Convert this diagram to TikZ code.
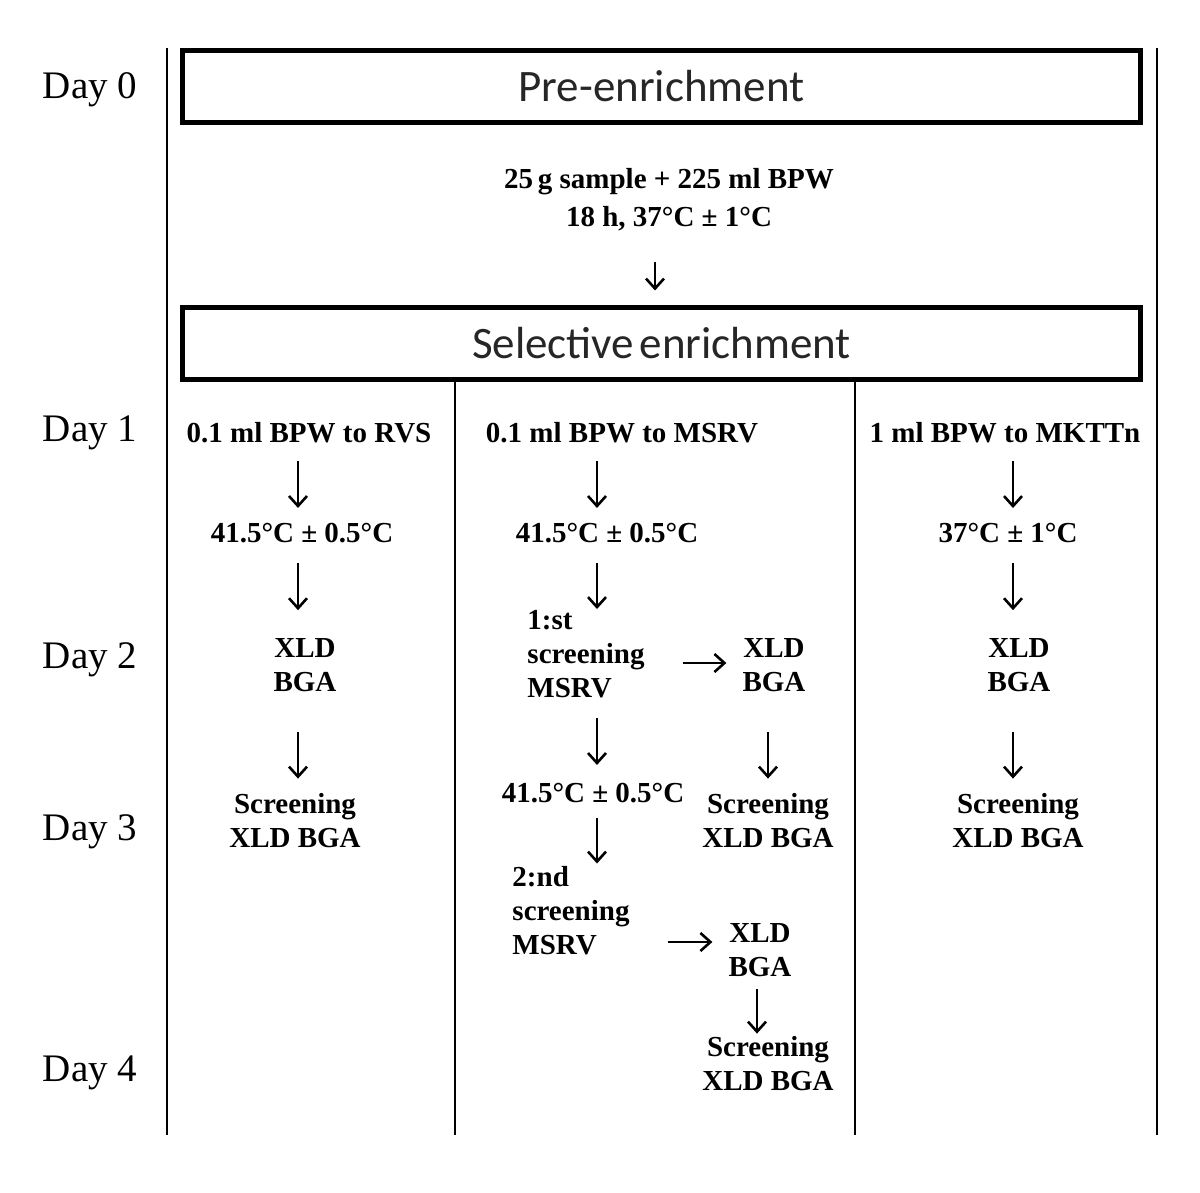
\documentclass[tikz,border=0pt]{standalone}
\usepackage{fontspec}
\setmainfont{Liberation Serif}
\newfontfamily\boxfont{Carlito}
\usetikzlibrary{arrows.meta}

\tikzset{
  daylabel/.style={font=\fontsize{39}{44}\selectfont, inner sep=0pt},
  stage/.style={draw, line width=5pt, minimum width=958pt, minimum height=72pt,
    inner sep=0pt, font=\boxfont\fontsize{45}{50}\selectfont, text=black!85},
  txt/.style={font=\bfseries\fontsize{29}{34}\selectfont, inner sep=0pt, align=center},
  flow/.style={line width=2.6pt, -{Straight Barb[length=10pt,width=18pt,line width=2.6pt]}},
  rule/.style={line width=2.5pt}
}

\begin{document}
\begin{tikzpicture}[x=1pt,y=-1pt]
\useasboundingbox (0,0) rectangle (1200,1192);

% frame lines
\draw[rule] (167,48) -- (167,1135);
\draw[rule] (1157,48) -- (1157,1135);
\draw[rule] (455,382) -- (455,1135);
\draw[rule] (855,382) -- (855,1135);

% days
\node[daylabel] (d0) at (90,90) {Day 0};
\node[daylabel] (d1) at (90,433) {Day 1};
\node[daylabel] (d2) at (90,660) {Day 2};
\node[daylabel] (d3) at (90,832) {Day 3};
\node[daylabel] (d4) at (90,1073) {Day 4};

% stages
\node[stage] (pre) at (661.5,86.5) {Pre-enrichment};
\node[stage] (sel) at (661.5,343) {Selective\hspace{0.12em}enrichment};

\node[txt] (bpw) at (669,200) {25\,g sample + 225 ml BPW\\[4pt]18 h, 37°C ± 1°C};
\coordinate (c0) at (655,0);
\draw[flow, shorten <=30pt, shorten >=14pt] (bpw.south -| c0) -- (sel.north -| c0);

% column coordinates
\coordinate (ca) at (298,0);
\coordinate (cb) at (597,0);
\coordinate (cc) at (768,0);
\coordinate (cd) at (1013,0);

% RVS column
\node[txt] (a1) at (309,433) {0.1 ml BPW to RVS};
\node[txt] (a2) at (302,533) {41.5°C ± 0.5°C};
\node[txt] (a3) at (305,665) {XLD\\BGA};
\node[txt] (a4) at (295,821) {Screening\\XLD BGA};
\draw[flow, shorten <=18pt, shorten >=15pt] (a1.south -| ca) -- (a2.north -| ca);
\draw[flow, shorten <=20pt, shorten >=28pt] (a2.south -| ca) -- (a3.north -| ca);
\draw[flow, shorten <=40pt, shorten >=15pt] (a3.south -| ca) -- (a4.north -| ca);

% MSRV column
\node[txt] (b1) at (622,433) {0.1 ml BPW to MSRV};
\node[txt] (b2) at (607,533) {41.5°C ± 0.5°C};
\node[txt, align=left] (b3) at (586,654) {1:st\\screening\\MSRV};
\node[txt] (b4) at (774,665) {XLD\\BGA};
\node[txt] (b5) at (593,793) {41.5°C ± 0.5°C};
\node[txt] (b6) at (768,821) {Screening\\XLD BGA};
\node[txt, align=left] (b7) at (571,911) {2:nd\\screening\\MSRV};
\node[txt] (b8) at (760,950) {XLD\\BGA};
\node[txt] (b9) at (768,1064) {Screening\\XLD BGA};
\draw[flow, shorten <=18pt, shorten >=15pt] (b1.south -| cb) -- (b2.north -| cb);
\draw[flow, shorten <=20pt, shorten >=1pt] (b2.south -| cb) -- (b3.north -| cb);
\draw[flow, shorten <=38pt, shorten >=16pt] ([yshift=-9pt]b3.east) -- ([yshift=-9pt]b3.east -| b4.west);
\draw[flow, shorten <=20pt, shorten >=18pt] (b3.south -| cb) -- (b5.north -| cb);
\draw[flow, shorten <=40pt, shorten >=15pt] (b4.south -| cc) -- (b6.north -| cc);
\draw[flow, shorten <=15pt, shorten >=3pt] (b5.south -| cb) -- (b7.north -| cb);
\draw[flow, shorten <=38pt, shorten >=16pt] ([yshift=-31pt]b7.east) -- ([yshift=-31pt]b7.east -| b8.west);
\draw[flow, shorten <=12pt, shorten >=3pt] ([xshift=-11pt]b8.south -| cc) -- ([xshift=-11pt]b9.north -| cc);

% MKTTn column
\node[txt] (c1) at (1005,433) {1 ml BPW to MKTTn};
\node[txt] (c2) at (1008,533) {37°C ± 1°C};
\node[txt] (c3) at (1019,665) {XLD\\BGA};
\node[txt] (c4) at (1018,821) {Screening\\XLD BGA};
\draw[flow, shorten <=18pt, shorten >=15pt] (c1.south -| cd) -- (c2.north -| cd);
\draw[flow, shorten <=20pt, shorten >=28pt] (c2.south -| cd) -- (c3.north -| cd);
\draw[flow, shorten <=40pt, shorten >=15pt] (c3.south -| cd) -- (c4.north -| cd);
\end{tikzpicture}
\end{document}
